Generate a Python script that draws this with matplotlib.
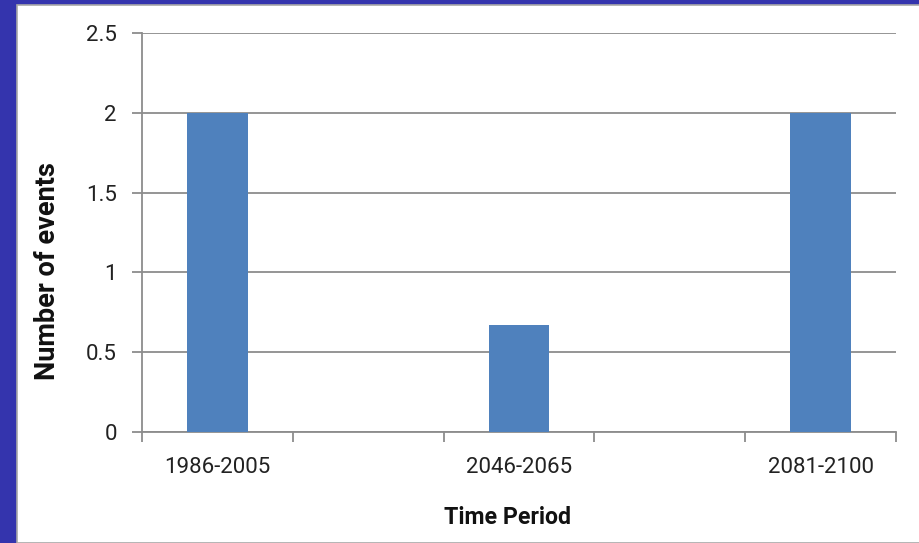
import numpy as np
import matplotlib
matplotlib.use('Agg')
import matplotlib.pyplot as plt
from matplotlib.patches import Rectangle

# datos
periodos = ['1986-2005', '', '2046-2065', '', '2081-2100']
eventos = [2.0, np.nan, 0.67, np.nan, 2.0]
y_ticks = [0, 0.5, 1, 1.5, 2, 2.5]
y_labels = ['0', '0.5', '1', '1.5', '2', '2.5']

plt.rcParams['font.family'] = ['Roboto', 'DejaVu Sans']

W, H = 920, 543
fig = plt.figure(figsize=(W / 100, H / 100), dpi=100)
fig.patch.set_facecolor('#3434ad')

# panel blanco (fondo de la diapositiva alrededor)
fig.patches.append(Rectangle((17 / W, 0), 1, 1 - 5 / H, transform=fig.transFigure,
                             facecolor='white', edgecolor='#a8a8a8', lw=1.2, zorder=-10))

ax = fig.add_axes([142 / W, 1 - 432 / H, (896 - 142) / W, (432 - 33) / H])
ax.set_zorder(2)
ax.set_facecolor('white')

x = np.arange(len(periodos))
ax.bar(x, eventos, width=0.4, color='#4f81bd', zorder=3)

ax.set_xlim(-0.5, len(periodos) - 0.5)
ax.set_ylim(0, 2.5)
ax.set_yticks(y_ticks)
ax.set_yticklabels(y_labels)
ax.set_xticks(x)
ax.set_xticklabels(periodos)
ax.set_xticks(np.arange(len(periodos) + 1) - 0.5, minor=True)

ax.grid(axis='y', color='#8c8c8c', lw=1.3, zorder=1)
for s in ['top', 'right']:
    ax.spines[s].set_visible(False)
for s in ['left', 'bottom']:
    ax.spines[s].set_color('#8c8c8c')
    ax.spines[s].set_linewidth(1.3)

ax.tick_params(axis='y', length=7, width=1.3, color='#8c8c8c', pad=11,
               labelsize=16, labelcolor='#222222')
ax.tick_params(axis='x', which='major', length=0, pad=18,
               labelsize=16, labelcolor='#222222')
ax.tick_params(axis='x', which='minor', length=7, width=1.3, color='#8c8c8c')

fig.text(48 / W, 1 - 271 / H, 'Number of events', rotation=90, ha='center', va='center',
         fontsize=19.5, fontweight='bold', color='#111111')
fig.text(508 / W, 1 - 517 / H, 'Time Period', ha='center', va='center',
         fontsize=16.7, fontweight='bold', color='#111111')

fig.savefig('out.png', dpi=100, facecolor=fig.get_facecolor())
